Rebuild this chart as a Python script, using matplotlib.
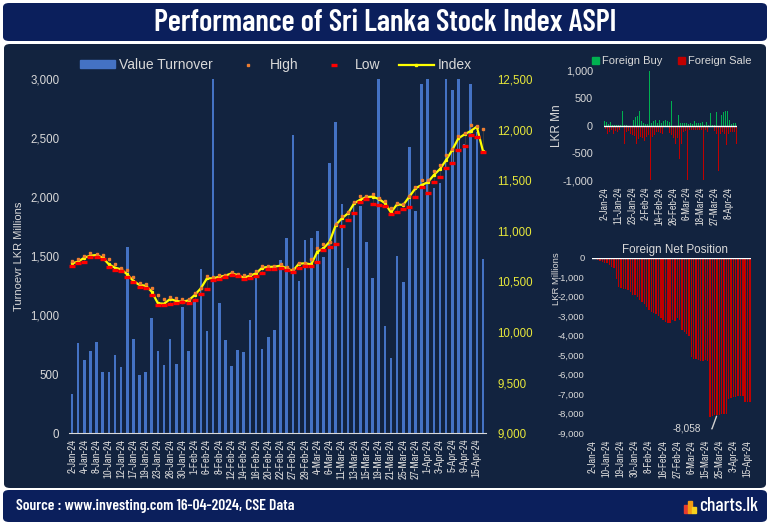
import matplotlib
matplotlib.use("Agg")
import numpy as np
import matplotlib.pyplot as plt
from matplotlib.patches import FancyBboxPatch, Rectangle
from matplotlib.lines import Line2D
from matplotlib.ticker import FuncFormatter

# ============================================================
# DATA
# ============================================================
dates = [
    "2-Jan-24", "3-Jan-24", "4-Jan-24", "5-Jan-24", "8-Jan-24", "9-Jan-24", "10-Jan-24", "11-Jan-24",
    "12-Jan-24", "16-Jan-24", "17-Jan-24", "18-Jan-24", "19-Jan-24", "22-Jan-24", "23-Jan-24", "24-Jan-24",
    "26-Jan-24", "29-Jan-24", "30-Jan-24", "31-Jan-24",
    "1-Feb-24", "2-Feb-24", "6-Feb-24", "7-Feb-24", "8-Feb-24", "9-Feb-24", "12-Feb-24", "13-Feb-24",
    "14-Feb-24", "15-Feb-24", "16-Feb-24", "19-Feb-24", "20-Feb-24", "21-Feb-24", "22-Feb-24", "26-Feb-24",
    "27-Feb-24", "28-Feb-24", "29-Feb-24",
    "1-Mar-24", "4-Mar-24", "5-Mar-24", "6-Mar-24", "7-Mar-24", "11-Mar-24", "12-Mar-24", "13-Mar-24",
    "14-Mar-24", "15-Mar-24", "18-Mar-24", "19-Mar-24", "20-Mar-24", "21-Mar-24", "22-Mar-24", "25-Mar-24",
    "26-Mar-24", "27-Mar-24", "28-Mar-24",
    "1-Apr-24", "2-Apr-24", "3-Apr-24", "4-Apr-24", "5-Apr-24", "8-Apr-24", "9-Apr-24", "10-Apr-24",
    "15-Apr-24", "16-Apr-24",
]

turnover = [333, 765, 621, 697, 773, 519, 519, 663, 562, 1578, 799, 494, 519, 976, 697, 579, 799,
            587, 1070, 697, 1137, 1391, 866, 3150, 1103, 790, 570, 705, 689, 960, 1330, 714, 816,
            875, 1467, 1654, 2526, 1290, 1637, 1650, 1713, 1493, 2289, 2636, 1942, 1400, 1958, 1925,
            1620, 1315, 3200, 909, 638, 1501, 1281, 2424, 1882, 2960, 3100, 2077, 2119, 3100, 2907,
            3100, 2450, 2958, 2550, 1476]

index_close = [10679, 10696, 10735, 10755, 10761, 10735, 10669, 10636, 10620, 10570, 10505, 10465,
               10458, 10399, 10284, 10280, 10327, 10307, 10300, 10313, 10366, 10432, 10531, 10531,
               10547, 10557, 10580, 10564, 10537, 10557, 10580, 10636, 10643, 10646, 10656, 10630,
               10603, 10676, 10679, 10669, 10794, 10827, 10893, 11058, 11124, 11173, 11272, 11308,
               11334, 11338, 11315, 11275, 11183, 11262, 11255, 11338, 11420, 11453, 11479, 11552,
               11611, 11700, 11799, 11914, 11953, 11986, 12029, 11789]

index_high = [10705, 10719, 10752, 10781, 10771, 10761, 10725, 10676, 10636, 10616, 10547, 10488,
              10475, 10435, 10366, 10327, 10343, 10340, 10327, 10327, 10386, 10439, 10557, 10547,
              10564, 10564, 10597, 10574, 10564, 10577, 10603, 10650, 10650, 10656, 10676, 10646,
              10623, 10686, 10686, 10722, 10827, 10873, 10893, 11071, 11150, 11189, 11288, 11348,
              11344, 11367, 11328, 11295, 11229, 11272, 11268, 11348, 11436, 11502, 11506, 11591,
              11651, 11749, 11809, 11937, 11963, 12046, 12039, 12003]

index_low = [10656, 10686, 10696, 10742, 10742, 10722, 10643, 10616, 10603, 10547, 10491, 10445,
             10439, 10366, 10267, 10267, 10280, 10287, 10300, 10287, 10320, 10379, 10429, 10518,
             10524, 10544, 10564, 10551, 10524, 10537, 10557, 10584, 10623, 10623, 10630, 10617,
             10597, 10630, 10656, 10656, 10695, 10814, 10840, 10873, 11051, 11110, 11180, 11288,
             11315, 11269, 11255, 11249, 11170, 11183, 11216, 11236, 11334, 11433, 11374, 11486,
             11532, 11624, 11670, 11799, 11842, 11947, 11927, 11782]

foreign_buy = [90, 67, 30, 67, 18, 18, 18, 18, 18, 273, 18, 18, 18, 18, 100, 100, 150, 175, 260, 90,
               55, 36, 36, 1010, 55, 90, 100, 55, 100, 55, 80, 100, 90, 67, 450, 520, 80, 110, 200,
               55, 42, 42, 55, 30, 42, 30, 80, 42, 42, 55, 67, 18, 67, 18, 230, 18, 18, 240, 1600,
               190, 200, 240, 260, 270, 100, 30, 55, 55]

foreign_sale = [-60, -150, -115, -90, -150, -100, -115, -90, -150, -840, -345, -127, -100, -164,
                -176, -200, -345, -255, -212, -224, -285, -212, -176, -1150, -212, -176, -115,
                -115, -133, -164, -164, -115, -164, -133, -180, -236, -345, -236, -618, -345, -115,
                -100, -1150, -80, -80, -80, -80, -80, -80, -80, -2900, -80, -115, -80, -90, -115,
                -100, -164, -830, -164, -115, -150, -357, -164, -115, -115, -115, -345]

net_position = [-52, -86, -120, -172, -223, -258, -292, -361, -464, -550,
                -1117, -1495, -1529, -1581, -1615, -1666, -1752, -1890, -1890, -2010,
                -2148, -2268, -2388, -2525, -2663, -2766, -2835, -2903, -2972, -3075,
                -3213, -3316, -3350, -3350, -3213, -3247, -3075, -3213, -3694, -3814,
                -3934, -4003, -5102, -5171, -5205, -5240, -5274, -5274, -5240, -5274,
                -8140, -8110, -8080, -8058, -8040, -8010, -8010, -8030,
                -7250, -7198, -7164, -7130, -7095, -7078, -7095, -7405, -7387, -7387]
net_label_idx = 53

# ============================================================
# STYLE
# ============================================================
W, H = 770, 525
BAND = "#0b1f5c"
PANEL = "#12233f"
TXT = "#d9d9d9"
YEL = "#e8e83a"
BLUE = "#4472c4"
HEAD = ["Barlow Condensed", "DejaVu Sans"]
NARROW = ["Archivo Narrow", "DejaVu Sans"]
plt.rcParams["font.family"] = ["Liberation Sans", "DejaVu Sans"]


def fx(px):
    return px / W


def fy(py):
    return 1 - py / H


comma = FuncFormatter(lambda v, p: f"{v:,.0f}")

fig = plt.figure(figsize=(7.7, 5.25), dpi=100)
fig.patch.set_facecolor("white")


def band(x0, y0, x1, y1, color):
    fig.add_artist(FancyBboxPatch((fx(x0), fy(y1)), (x1 - x0) / W, (y1 - y0) / H,
                                  boxstyle="round,pad=0,rounding_size=0.008",
                                  transform=fig.transFigure, fc=color, ec="none", zorder=-5))


band(3, 3, 767, 41, BAND)
band(4, 44, 766, 488, PANEL)
band(3, 490, 767, 522, BAND)

fig.text(0.5, fy(23), "Performance of Sri Lanka Stock Index ASPI", color="white",
         fontsize=22, fontweight=600, family=HEAD, ha="center", va="center")
fig.text(fx(16), fy(506), "Source : www.investing.com 16-04-2024, CSE Data", color="white",
         fontsize=11.2, fontweight=600, family=HEAD, ha="left", va="center")
fig.text(fx(758), fy(506), "charts.lk", color="white", fontsize=14, fontweight=500,
         family=HEAD, ha="right", va="center")
# small logo bars in front of charts.lk
for i, (c, hgt) in enumerate([("#e63b2e", 8), ("#f39c12", 12), ("#f7d21e", 6)]):
    fig.add_artist(Rectangle((fx(684 + i * 4), fy(513)), 3.5 / W, hgt / H, color=c,
                             transform=fig.transFigure))

x = np.arange(len(dates))

# ============================================================
# MAIN CHART
# ============================================================
ax = fig.add_axes([fx(69), fy(433.3), (486 - 69) / W, (433.3 - 79) / H])
ax.patch.set_alpha(0)
ax.bar(x, turnover, width=0.42, color=BLUE, zorder=2)
ax.set_xlim(-0.5, len(dates) - 0.5)
ax.set_ylim(0, 3000)
ax.set_yticks(range(0, 3001, 500))
ax.yaxis.set_major_formatter(comma)
ax.tick_params(axis="y", length=0, pad=7, labelsize=8.3, labelcolor=TXT)
ax.set_xticks(x[::2])
ax.set_xticklabels(dates[::2], rotation=90, family=NARROW, fontsize=7.6, color=TXT)
ax.tick_params(axis="x", length=0, pad=4)
for s in ["top", "left", "right"]:
    ax.spines[s].set_visible(False)
ax.spines["bottom"].set_color(TXT)
ax.set_ylabel("Turnoevr LKR Millions", color=TXT, fontsize=8)
ax.yaxis.set_label_coords(-0.108, 0.5)

ax2 = ax.twinx()
ax2.patch.set_alpha(0)
ax2.set_ylim(9000, 12500)
ax2.set_yticks(range(9000, 12501, 500))
ax2.yaxis.set_major_formatter(comma)
ax2.tick_params(axis="y", length=0, pad=8, labelsize=8.3, labelcolor=YEL)
for s in ax2.spines.values():
    s.set_visible(False)
ax2.vlines(x, index_low, index_high, color="#3a3a3a", lw=0.7, zorder=2)
ax2.plot(x, index_close, color="#ffff00", lw=1.6, marker="s", ms=1.3, zorder=3)
ax2.plot(x, index_high, ls="none", marker="s", ms=2.0, color="#ed7d31", zorder=4)
ax2.plot(x, index_low, ls="none", marker="_", ms=4.5, mew=2.4, color="#ff0000", zorder=4)

handles = [Rectangle((0, 0), 1, 1, color=BLUE),
           Line2D([], [], ls="none", marker="s", ms=2.0, color="#ed7d31"),
           Line2D([], [], ls="none", marker="_", ms=4.5, mew=2.4, color="#ff0000"),
           Line2D([], [], color="#ffff00", lw=1.6, marker="s", ms=2)]
fig.legend(handles, ["Value Turnover", "High", "Low", "Index"], loc="center",
           bbox_to_anchor=(fx(276), fy(65)), ncol=4, frameon=False, fontsize=10,
           labelcolor=TXT, handlelength=2.5, handleheight=0.5, columnspacing=1.3,
           handletextpad=0.3)

# ============================================================
# FOREIGN BUY / SALE
# ============================================================
axb = fig.add_axes([fx(604), fy(180), 133 / W, 109 / H])
axb.patch.set_alpha(0)
axb.bar(x - 0.2, foreign_buy, width=0.45, color="#00b050")
axb.bar(x + 0.2, foreign_sale, width=0.45, color="#c00000")
axb.axhline(0, color="white", lw=1)
axb.set_xlim(-0.5, len(dates) - 0.5)
axb.set_ylim(-1000, 1000)
axb.set_yticks([-1000, -500, 0, 500, 1000])
axb.yaxis.set_major_formatter(comma)
axb.tick_params(axis="y", length=0, pad=8, labelsize=7.8, labelcolor=TXT)
axb.set_xticks(x[::7])
axb.set_xticklabels(dates[::7], rotation=90, family=NARROW, fontsize=7.2, color=TXT)
axb.tick_params(axis="x", length=0, pad=5)
for s in axb.spines.values():
    s.set_visible(False)
axb.set_ylabel("LKR Mn", color=TXT, fontsize=8.5)
axb.yaxis.set_label_coords(-0.31, 0.5)
fig.legend([Rectangle((0, 0), 1, 1, color="#00b050"), Rectangle((0, 0), 1, 1, color="#c00000")],
           ["Foreign Buy", "Foreign Sale"], loc="center", bbox_to_anchor=(fx(672), fy(61)),
           ncol=2, frameon=False, fontsize=8, labelcolor=TXT, handlelength=0.6,
           handleheight=0.6, handletextpad=0.3, columnspacing=1.4)

# ============================================================
# FOREIGN NET POSITION
# ============================================================
axn = fig.add_axes([fx(591.7), fy(433.3), 159.3 / W, (433.3 - 257.7) / H])
axn.patch.set_alpha(0)
axn.bar(x, net_position, width=0.6, color="#c00000")
axn.axhline(0, color="white", lw=1)
axn.set_xlim(-0.5, len(dates) - 0.5)
axn.set_ylim(-9000, 0)
axn.set_yticks(range(-9000, 1, 1000))
axn.yaxis.set_major_formatter(comma)
axn.tick_params(axis="y", length=0, pad=5, labelsize=6.8, labelcolor=TXT)
axn.set_xticks(x[::6])
axn.set_xticklabels(dates[::6], rotation=90, family=NARROW, fontsize=7.2, color=TXT)
axn.tick_params(axis="x", length=0, pad=5)
for s in axn.spines.values():
    s.set_visible(False)
axn.set_ylabel("LKR Millions", color=TXT, fontsize=6.8)
axn.yaxis.set_label_coords(-0.19, 0.88)
fig.text(fx(674.5), fy(250), "Foreign Net Position", color=TXT, fontsize=8.4,
         ha="center", va="center")
axn.annotate(f"{net_position[net_label_idx]:,}", xy=(net_label_idx, net_position[net_label_idx]),
             xytext=(-22, -10), textcoords="offset points", color=TXT, fontsize=7.2,
             ha="center", va="center", annotation_clip=False,
             arrowprops=dict(arrowstyle="-", color="#d0d0d0", lw=1.0,
                             connectionstyle="angle,angleA=0,angleB=70,rad=0",
                             shrinkA=6, shrinkB=1, clip_on=False))

fig.savefig("out.png", dpi=100, facecolor=fig.get_facecolor())
